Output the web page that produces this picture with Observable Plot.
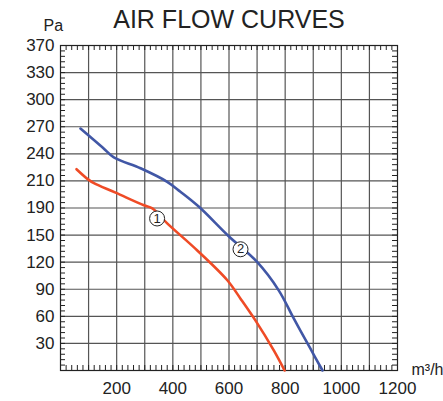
<!DOCTYPE html>
<html>
<head>
<meta charset="utf-8">
<script src="https://cdn.jsdelivr.net/npm/d3@7"></script>
<script src="https://cdn.jsdelivr.net/npm/@observablehq/plot@0.6"></script>
<style>
  html, body { margin: 0; padding: 0; background: #fff; }
  #chart svg { display: block; }
</style>
</head>
<body>
<div id="chart"></div>
<script>
// ---- data ----
const title = "AIR FLOW CURVES";
const yUnit = "Pa";
const xUnit = "m³/h";
// y grid positions (equal spacing) and the labels printed at them
const yTicks = [30, 60, 90, 120, 150, 180, 210, 240, 270, 300, 330, 360];
const yTickLabels = ["30", "60", "90", "120", "150", "190", "210", "240", "270", "300", "330", "370"];
const xTicks = [200, 400, 600, 800, 1000, 1200];
const xGrid = [100, 200, 300, 400, 500, 600, 700, 800, 900, 1000, 1100];
const yGrid = [30, 60, 90, 120, 150, 180, 210, 240, 270, 300, 330];

// curve 1 (red)
const flow1 = [57, 97, 119, 196, 297, 327, 380, 487, 594, 641, 694, 760, 798];
const press1 = [223, 212, 207.5, 197, 183, 179.5, 163, 133, 100, 79.6, 55.5, 22, 0];
// curve 2 (blue)
const flow2 = [71, 150, 190, 285, 380, 427, 493, 599, 700, 777, 831, 890, 933];
const press2 = [268, 247, 236, 224, 209, 198, 181.3, 148.7, 120.2, 88.8, 57.4, 24.1, 0];

const markerNames = ["1", "2"];
const markerFlow = [344, 641];
const markerPress = [168.4, 134.3];

// ---- build ----
const curve1 = flow1.map((x, i) => ({x, y: press1[i]}));
const curve2 = flow2.map((x, i) => ({x, y: press2[i]}));
const markers = markerNames.map((n, i) => ({n, x: markerFlow[i], y: markerPress[i]}));
const xMinor = d3.range(0, 1201, 20);
const yMinor = d3.range(0, 361, 6);

const W = 443, H = 401;
const mL = 60, mR = 46, mT = 45, mB = 31;
const fw = W - mL - mR, fh = H - mT - mB;
const font = "'Liberation Sans', Arial, Helvetica, sans-serif";
const red = "#ef4b26", blue = "#4157a6", gridC = "#555", ink = "#222";

const plot = Plot.plot({
  width: W, height: H,
  marginLeft: mL, marginRight: mR, marginTop: mT, marginBottom: mB,
  style: {fontFamily: font, background: "#fff", color: ink},
  x: {domain: [0, 1200]},
  y: {domain: [0, 360]},
  marks: [
    Plot.ruleX(xGrid, {x: d => d, stroke: gridC, strokeWidth: 1.2}),
    Plot.ruleY(yGrid, {y: d => d, stroke: gridC, strokeWidth: 1.2}),
    Plot.tickX(xMinor, {x: d => d, insetTop: fh - 5, stroke: ink}),
    Plot.tickX(xMinor, {x: d => d, insetBottom: fh - 5, stroke: ink}),
    Plot.tickY(yMinor, {y: d => d, insetRight: fw - 5, stroke: ink}),
    Plot.tickY(yMinor, {y: d => d, insetLeft: fw - 5, stroke: ink}),
    Plot.frame({stroke: ink, strokeWidth: 1.2}),
    Plot.axisY({ticks: yTicks, tickSize: 0, tickPadding: 6, fontSize: 17,
      tickFormat: d => yTickLabels[yTicks.indexOf(d)], label: null}),
    Plot.axisX({ticks: xTicks, tickSize: 0, tickPadding: 11, fontSize: 17,
      tickFormat: d => String(d), label: null}),
    Plot.line(curve1, {x: "x", y: "y", stroke: red, strokeWidth: 2.6, curve: "catmull-rom"}),
    Plot.line(curve2, {x: "x", y: "y", stroke: blue, strokeWidth: 2.6, curve: "catmull-rom"}),
    Plot.dot(markers, {x: "x", y: "y", r: 7.5, fill: "#fff", stroke: ink, strokeWidth: 1}),
    Plot.text(markers, {x: "x", y: "y", text: "n", fontSize: 13, fill: ink}),
    Plot.text([title], {text: d => d, frameAnchor: "top", dy: -35, fontSize: 25, fill: ink}),
    Plot.text([yUnit], {text: d => d, frameAnchor: "top-left", dx: -17, dy: -26, fontSize: 16, fill: ink}),
    Plot.text([xUnit], {text: d => d, frameAnchor: "bottom-right", textAnchor: "start", dx: 14, dy: 4, fontSize: 16, fill: ink})
  ]
});
document.getElementById("chart").appendChild(plot);
</script>
</body>
</html>
